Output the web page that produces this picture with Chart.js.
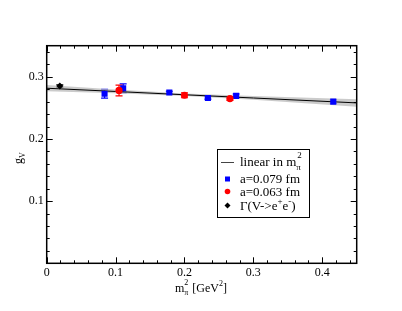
<!DOCTYPE html>
<html>
<head>
<meta charset="utf-8">
<script src="https://cdn.jsdelivr.net/npm/chart.js@4.4.0/dist/chart.umd.min.js"></script>
<style>
  html, body { margin: 0; padding: 0; background: #fff; }
  #wrap { width: 402px; height: 311px; }
</style>
</head>
<body>
<div id="wrap"><canvas id="chart" width="402" height="311"></canvas></div>
<script>
// values
const blueX = [0.084, 0.111, 0.178, 0.234, 0.275, 0.416];
const blueY = [0.2726, 0.2816, 0.2747, 0.2660, 0.2693, 0.2600];
const blueErr = [0.007, 0.007, 0.002, 0.002, 0.003, 0.003];

const redX = [0.105, 0.200, 0.266];
const redY = [0.2780, 0.2703, 0.2650];
const redErr = [0.0086, 0.004, 0.003];

const physX = [0.019];
const physY = [0.285];
const physErr = [0.002];

// linear fit and its error band
const fitX = [0, 0.1, 0.2, 0.3, 0.45];
const fitY = [0.2816, 0.2764, 0.2711, 0.2659, 0.2580];
const fitHalf = [0.005, 0.003, 0.002, 0.003, 0.006];

const xTicks = [0, 0.1, 0.2, 0.3, 0.4];
const yTicks = [0.1, 0.2, 0.3];

const pts = (xs, ys) => xs.map((x, i) => ({ x: x, y: ys[i] }));

const serif = '"Liberation Serif", "DejaVu Serif", serif';

// inward ticks, frame, error bars, axis titles and legend
const decor = {
    id: 'decor',
    beforeDatasetsDraw(chart) {
        const ctx = chart.ctx;
        chart.data.datasets.forEach((ds, di) => {
            if (!ds.err) return;
            const xs = chart.scales.x, ys = chart.scales.y;
            ctx.save();
            ctx.strokeStyle = ds.backgroundColor;
            ctx.lineWidth = 1.2;
            ds.data.forEach((p, i) => {
                const px = xs.getPixelForValue(p.x);
                const y1 = ys.getPixelForValue(p.y + ds.err[i]);
                const y2 = ys.getPixelForValue(p.y - ds.err[i]);
                ctx.beginPath();
                ctx.moveTo(px, y1); ctx.lineTo(px, y2);
                ctx.moveTo(px - 3.5, y1); ctx.lineTo(px + 3.5, y1);
                ctx.moveTo(px - 3.5, y2); ctx.lineTo(px + 3.5, y2);
                ctx.stroke();
            });
            ctx.restore();
        });
    },
    afterDraw(chart) {
        const ctx = chart.ctx;
        const a = chart.chartArea;
        const xs = chart.scales.x, ys = chart.scales.y;
        ctx.save();
        ctx.strokeStyle = '#000';
        ctx.lineWidth = 1.5;
        ctx.strokeRect(a.left, a.top, a.right - a.left, a.bottom - a.top);

        ctx.lineWidth = 1;
        ctx.beginPath();
        for (let v = 0; v <= 0.4501; v += 0.02) {
            const px = Math.round(xs.getPixelForValue(v)) + 0.5;
            const major = Math.abs(v * 10 - Math.round(v * 10)) < 1e-6;
            const len = major ? 6 : 3;
            ctx.moveTo(px, a.bottom); ctx.lineTo(px, a.bottom - len);
            ctx.moveTo(px, a.top); ctx.lineTo(px, a.top + len);
        }
        for (let v = 0; v <= 0.3501; v += 0.02) {
            const py = Math.round(ys.getPixelForValue(v)) + 0.5;
            const major = Math.abs(v * 10 - Math.round(v * 10)) < 1e-6;
            const len = major ? 6 : 3;
            ctx.moveTo(a.left, py); ctx.lineTo(a.left + len, py);
            ctx.moveTo(a.right, py); ctx.lineTo(a.right - len, py);
        }
        ctx.stroke();

        // axis titles
        ctx.fillStyle = '#000';
        ctx.textBaseline = 'alphabetic';
        ctx.save();
        ctx.translate(22, 158);
        ctx.rotate(-Math.PI / 2);
        ctx.font = '12px ' + serif;
        ctx.fillText('g', -6, 0);
        ctx.font = '8px ' + serif;
        ctx.fillText('V', 0, 3);
        ctx.restore();

        let x = 175, base = 292;
        ctx.font = '12px ' + serif;
        ctx.fillText('m', x, base);
        x += ctx.measureText('m').width;
        ctx.font = '8px ' + serif;
        ctx.fillText('2', x, base - 7);
        ctx.fillText('\u03c0', x, base + 3);
        x += 5;
        ctx.font = '12px ' + serif;
        ctx.fillText(' [GeV', x, base);
        x += ctx.measureText(' [GeV').width;
        ctx.font = '8px ' + serif;
        ctx.fillText('2', x, base - 6);
        x += 4;
        ctx.font = '12px ' + serif;
        ctx.fillText(']', x, base);

        // legend
        const L = { l: 217.5, t: 149.5, r: 309.5, b: 217.5 };
        ctx.fillStyle = '#fff';
        ctx.fillRect(L.l, L.t, L.r - L.l, L.b - L.t);
        ctx.lineWidth = 1;
        ctx.strokeStyle = '#000';
        ctx.strokeRect(L.l, L.t, L.r - L.l, L.b - L.t);

        const sx = 227.5, tx = 240;
        ctx.strokeStyle = '#444';
        ctx.beginPath();
        ctx.moveTo(221, 162.5); ctx.lineTo(234, 162.5);
        ctx.stroke();
        ctx.fillStyle = '#0000ff';
        ctx.fillRect(sx - 2.5, 176.5, 5, 5);
        ctx.fillStyle = '#ff0000';
        ctx.beginPath(); ctx.arc(sx, 191.5, 2.8, 0, Math.PI * 2); ctx.fill();
        ctx.fillStyle = '#000';
        ctx.beginPath();
        ctx.moveTo(sx, 202.5); ctx.lineTo(sx + 3, 205.5); ctx.lineTo(sx, 208.5); ctx.lineTo(sx - 3, 205.5);
        ctx.closePath(); ctx.fill();

        const big = '13px ' + serif, small = '9px ' + serif;
        ctx.font = big;
        ctx.fillText('linear in m', tx, 166);
        let w = ctx.measureText('linear in m').width;
        ctx.font = small;
        ctx.fillText('2', tx + w + 1, 158);
        ctx.fillText('\u03c0', tx + w, 170);
        ctx.font = big;
        ctx.fillText('a=0.079 fm', tx, 183);
        ctx.fillText('a=0.063 fm', tx, 196);
        ctx.fillText('\u0393(V->e', tx, 210);
        w = ctx.measureText('\u0393(V->e').width;
        ctx.font = small;
        ctx.fillText('+', tx + w, 204);
        ctx.font = big;
        ctx.fillText('e', tx + w + 5, 210);
        const w2 = ctx.measureText('e').width;
        ctx.font = small;
        ctx.fillText('-', tx + w + 5 + w2, 204);
        ctx.font = big;
        ctx.fillText(')', tx + w + 8 + w2, 210);
        ctx.restore();
    }
};

new Chart(document.getElementById('chart'), {
    type: 'scatter',
    data: {
        datasets: [
            {
                label: 'band upper',
                data: pts(fitX, fitY.map((y, i) => y + fitHalf[i])),
                showLine: true,
                borderWidth: 0,
                pointRadius: 0,
                backgroundColor: 'rgba(185, 185, 185, 0.75)',
                fill: '+1',
                order: 5
            },
            {
                label: 'band lower',
                data: pts(fitX, fitY.map((y, i) => y - fitHalf[i])),
                showLine: true,
                borderWidth: 0,
                pointRadius: 0,
                fill: false,
                order: 5
            },
            {
                label: 'linear in m_pi^2',
                data: pts(fitX, fitY),
                showLine: true,
                borderColor: '#000',
                borderWidth: 1,
                pointRadius: 0,
                fill: false,
                order: 4
            },
            {
                label: 'a=0.079 fm',
                data: pts(blueX, blueY),
                err: blueErr,
                pointStyle: 'rect',
                pointRadius: 4.3,
                backgroundColor: '#0000ff',
                borderColor: '#0000ff',
                borderWidth: 0,
                order: 2
            },
            {
                label: 'a=0.063 fm',
                data: pts(redX, redY),
                err: redErr,
                pointStyle: 'circle',
                pointRadius: 3.6,
                backgroundColor: '#ff0000',
                borderColor: '#ff0000',
                borderWidth: 0,
                order: 1
            },
            {
                label: 'Gamma(V->e+e-)',
                data: pts(physX, physY),
                err: physErr,
                pointStyle: 'rectRot',
                pointRadius: 3.5,
                backgroundColor: '#000',
                borderColor: '#000',
                borderWidth: 0,
                order: 0
            }
        ]
    },
    options: {
        responsive: false,
        animation: false,
        layout: { padding: { top: 45.7, right: 45.3, left: 0, bottom: 0 } },
        plugins: {
            legend: { display: false },
            tooltip: { enabled: false }
        },
        scales: {
            x: {
                type: 'linear',
                min: 0,
                max: 0.45,
                afterBuildTicks: s => { s.ticks = xTicks.map(v => ({ value: v })); },
                afterFit: s => { s.height = 311 - 263.3; },
                grid: { display: false, drawTicks: false },
                border: { display: false },
                ticks: {
                    padding: 2,
                    color: '#000',
                    font: { family: serif, size: 12 },
                    maxRotation: 0,
                    callback: v => v === 0 ? '0' : String(Math.round(v * 10) / 10)
                }
            },
            y: {
                type: 'linear',
                min: 0,
                max: 0.35,
                afterBuildTicks: s => { s.ticks = yTicks.map(v => ({ value: v })); },
                afterFit: s => { s.width = 46.7; },
                grid: { display: false, drawTicks: false },
                border: { display: false },
                ticks: {
                    padding: 3,
                    color: '#000',
                    font: { family: serif, size: 12 },
                    callback: v => String(Math.round(v * 10) / 10)
                }
            }
        }
    },
    plugins: [decor]
});
</script>
</body>
</html>
